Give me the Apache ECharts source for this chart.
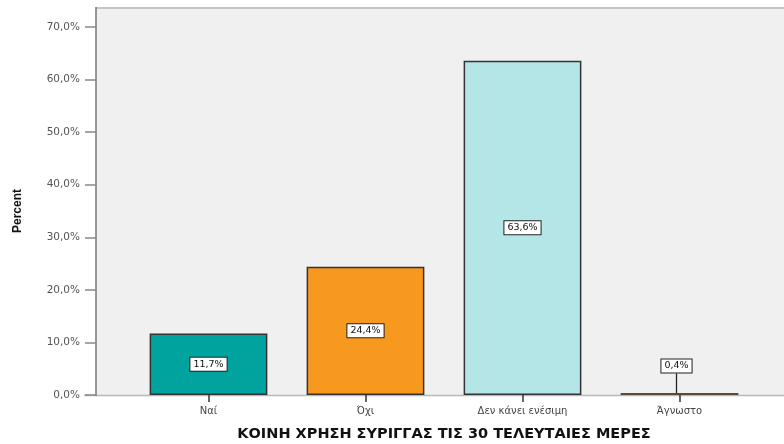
<!DOCTYPE html>
<html>
<head>
<meta charset="utf-8">
<style>
  html, body { margin: 0; padding: 0; background: #fff; }
  #main { width: 784px; height: 444px; }
</style>
<script src="https://cdn.jsdelivr.net/npm/echarts@6/dist/echarts.min.js"></script>
</head>
<body>
<div id="main"></div>
<script>
// categories and percent values
var categories = ['Ναί', 'Όχι', 'Δεν κάνει ενέσιμη', 'Άγνωστο'];
var percents = [11.7, 24.4, 63.6, 0.4];
var barColors = ['#00a39e', '#f7981f', '#b4e6e8', '#6e5a44'];
var yTicks = [0, 10, 20, 30, 40, 50, 60, 70];

var FONT = '"DejaVu Sans", Verdana, sans-serif';

function fmt(v) {
    return v.toFixed(1).replace('.', ',') + '%';
}

var chart = echarts.init(document.getElementById('main'));

var barData = percents.map(function (v, i) {
    var item = {
        value: v,
        itemStyle: { color: barColors[i] }
    };
    if (i === 3) {
        item.itemStyle.borderColor = '#5a4a38';
        item.itemStyle.borderWidth = 2;
        item.labelLine = { show: true, lineStyle: { color: '#222', width: 1.3 } };
    }
    return item;
});

var option = {
    backgroundColor: '#fff',
    animation: false,
    graphic: [
        // plot background and frame
        { type: 'rect', z: -10, silent: true,
          shape: { x: 96, y: 8, width: 700, height: 387 },
          style: { fill: '#f0f0f0' } },
        { type: 'line', z: -5, silent: true,
          shape: { x1: 96, y1: 8, x2: 784, y2: 8 },
          style: { stroke: '#c4c4c4', lineWidth: 2 } },
        { type: 'line', z: -5, silent: true,
          shape: { x1: 84, y1: 395.5, x2: 784, y2: 395.5 },
          style: { stroke: '#b8b8b8', lineWidth: 1.5 } },
        { type: 'line', z: -5, silent: true,
          shape: { x1: 96, y1: 7, x2: 96, y2: 396 },
          style: { stroke: '#777', lineWidth: 1.5 } }
    ],
    grid: { left: 130, right: 26, top: 27, bottom: 49, outerBoundsMode: 'none' },
    xAxis: {
        type: 'category',
        data: categories,
        name: 'ΚΟΙΝΗ ΧΡΗΣΗ ΣΥΡΙΓΓΑΣ ΤΙΣ 30 ΤΕΛΕΥΤΑΙΕΣ ΜΕΡΕΣ',
        nameLocation: 'middle',
        nameGap: 32,
        nameTextStyle: { fontFamily: FONT, fontSize: 14.5, fontWeight: 'bold', color: '#111' },
        axisLine: { show: false },
        axisTick: { show: true, alignWithLabel: true, length: 7, lineStyle: { color: '#333', width: 1.5 } },
        axisLabel: { fontFamily: FONT, fontSize: 10, color: '#444', margin: 11 }
    },
    yAxis: {
        type: 'value',
        min: yTicks[0],
        max: yTicks[yTicks.length - 1],
        interval: 10,
        offset: 34,
        name: 'Percent',
        nameLocation: 'middle',
        nameGap: 72,
        nameRotate: 90,
        nameTextStyle: { fontFamily: '"Liberation Sans", Arial, sans-serif', fontSize: 12, fontWeight: 'bold', color: '#111' },
        splitLine: { show: false },
        axisLine: { show: false },
        axisTick: { show: true, length: 11, lineStyle: { color: '#888', width: 1.5 } },
        axisLabel: {
            fontFamily: FONT, fontSize: 10.5, color: '#555', margin: 16,
            formatter: function (v) { return fmt(v); }
        }
    },
    series: [{
        type: 'bar',
        data: barData,
        barCategoryGap: '25%',
        itemStyle: { borderColor: '#333', borderWidth: 1.5 },
        label: {
            show: true,
            position: 'inside',
            formatter: function (p) { return fmt(p.value); },
            fontFamily: FONT,
            fontSize: 9.5,
            color: '#111',
            backgroundColor: '#fff',
            borderColor: '#222',
            borderWidth: 1,
            padding: [2, 3, 1, 3]
        },
        labelLayout: function (params) {
            if (params.dataIndex === 3) {
                return { x: params.rect.x + params.rect.width / 2 - 3, y: 366, align: 'center', verticalAlign: 'middle' };
            }
        }
    }]
};

chart.setOption(option);
</script>
</body>
</html>
